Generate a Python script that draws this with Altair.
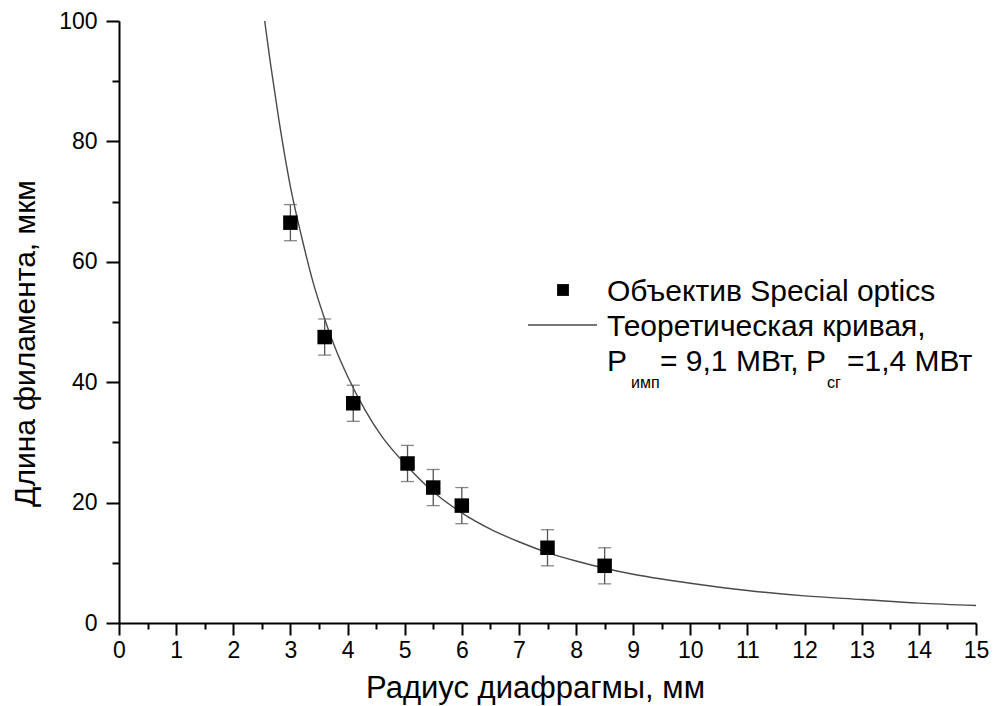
import altair as alt
import pandas as pd

# Experimental points
radius = [3.0, 3.6, 4.1, 5.05, 5.5, 6.0, 7.5, 8.5]
length = [66.5, 47.5, 36.5, 26.5, 22.5, 19.5, 12.5, 9.5]
err = [3, 3, 3, 3, 3, 3, 3, 3]

# Theoretical curve
curve_x = [2.55, 2.65, 2.8, 3.0, 3.2, 3.4, 3.6, 3.8, 4.0, 4.3, 4.6, 5.0, 5.5, 6.0,
           6.5, 7.0, 7.5, 8.0, 8.5, 9.0, 9.5, 10, 11, 12, 13, 14, 15]
curve_y = [100, 93, 83.5, 72.5, 64, 56.5, 50.5, 45.3, 41, 35.5, 31, 26.5, 21.8, 18.3,
           15.6, 13.5, 11.7, 10.3, 9.1, 8.1, 7.3, 6.6, 5.4, 4.5, 3.9, 3.3, 2.9]

x_major = list(range(0, 16))
x_minor = [i + 0.5 for i in range(0, 15)]
y_major = [0, 20, 40, 60, 80, 100]
y_minor = [10, 30, 50, 70, 90]

legend_labels = ["Объектив Special optics", "Теоретическая кривая,"]
legend_line3 = ["P", "имп", "= 9,1 МВт,", "P", "сг", "=1,4 МВт"]

x_title = "Радиус диафрагмы, мм"
y_title = "Длина филамента, мкм"

FONT = "Liberation Sans"

pts = pd.DataFrame({"x": radius, "y": length, "e": err})
crv = pd.DataFrame({"x": curve_x, "y": curve_y})

xscale = alt.Scale(domain=[0, 15], nice=False, zero=False)
yscale = alt.Scale(domain=[0, 100], nice=False, zero=False)

major_x_axis = alt.Axis(values=x_major, tickSize=12, tickWidth=2, domainWidth=2,
                        domainColor="black", tickColor="black", labelFont=FONT,
                        labelFontSize=23, labelColor="black", labelPadding=4,
                        grid=False, title=x_title, titleFont=FONT, titleFontSize=31,
                        titleFontWeight="normal", titleColor="black",
                        titleX=416, titleY=74, titleAlign="center",
                        titleBaseline="alphabetic", orient="bottom", labelFlush=False)
major_y_axis = alt.Axis(values=y_major, tickSize=13, tickWidth=2, domainWidth=2,
                        domainColor="black", tickColor="black", labelFont=FONT,
                        labelFontSize=23, labelColor="black", labelPadding=9,
                        grid=False, title=y_title, titleFont=FONT, titleFontSize=30,
                        titleFontWeight="normal", titleColor="black",
                        titleX=-94, titleY=322, titleAngle=270, titleAlign="center",
                        titleBaseline="middle", orient="left", labelFlush=False)
minor_x_axis = alt.Axis(values=x_minor, tickSize=6, tickWidth=2, tickColor="black",
                        domain=False, labels=False, grid=False, title=None, orient="bottom")
minor_y_axis = alt.Axis(values=y_minor, tickSize=7, tickWidth=2, tickColor="black",
                        domain=False, labels=False, grid=False, title=None, orient="left")

curve = alt.Chart(crv).mark_line(color="#4a4a4a", strokeWidth=1.4, interpolate="monotone").encode(
    x=alt.X("x:Q", scale=xscale, axis=minor_x_axis),
    y=alt.Y("y:Q", scale=yscale, axis=minor_y_axis),
)

base = alt.Chart(pts).transform_calculate(
    lo="datum.y - datum.e", hi="datum.y + datum.e"
)

bars = base.mark_rule(color="#555555", strokeWidth=1.3).encode(
    x=alt.X("x:Q", scale=xscale, axis=None),
    y=alt.Y("lo:Q", scale=yscale, axis=None),
    y2="hi:Q",
)
cap_lo = base.mark_tick(color="#555555", orient="horizontal", size=13, thickness=1.3).encode(
    x=alt.X("x:Q", scale=xscale, axis=None),
    y=alt.Y("lo:Q", scale=yscale, axis=None),
)
cap_hi = base.mark_tick(color="#555555", orient="horizontal", size=13, thickness=1.3).encode(
    x=alt.X("x:Q", scale=xscale, axis=None),
    y=alt.Y("hi:Q", scale=yscale, axis=None),
)

points = alt.Chart(pts).mark_point(shape="square", filled=True, color="black",
                                   size=210, opacity=1).encode(
    x=alt.X("x:Q", scale=xscale, axis=major_x_axis),
    y=alt.Y("y:Q", scale=yscale, axis=major_y_axis),
)

one = alt.Data(values=[{"a": 1}])

leg_square = alt.Chart(one).mark_point(shape="square", filled=True, color="black",
                                       size=140, opacity=1).encode(
    x=alt.value(444), y=alt.value(269))
leg_line = alt.Chart(one).mark_rule(color="#4a4a4a", strokeWidth=1.4).encode(
    x=alt.value(409), x2=alt.value(478), y=alt.value(304))


def txt(s, x, y, size):
    return alt.Chart(one).mark_text(text=s, align="left", baseline="alphabetic",
                                    font=FONT, fontSize=size, color="black").encode(
        x=alt.value(x), y=alt.value(y))


texts = [
    txt(legend_labels[0], 488, 280, 30),
    txt(legend_labels[1], 488, 315, 30),
    txt(legend_line3[0], 488, 350, 30),
    txt(legend_line3[1], 512, 367, 16),
    txt(legend_line3[2], 541, 350, 30),
    txt(legend_line3[3], 687, 350, 30),
    txt(legend_line3[4], 708, 367, 16),
    txt(legend_line3[5], 728, 350, 30),
]

chart = alt.layer(curve, bars, cap_lo, cap_hi, points, leg_square, leg_line, *texts).resolve_axis(
    x="independent", y="independent"
).properties(
    width=857, height=602,
    autosize=alt.AutoSizeParams(type="none"),
    padding={"left": 119, "top": 21, "right": 21, "bottom": 83},
    background="white",
).configure_view(stroke=None)

chart.save("out.html", embed_options={"renderer": "svg", "actions": False})
